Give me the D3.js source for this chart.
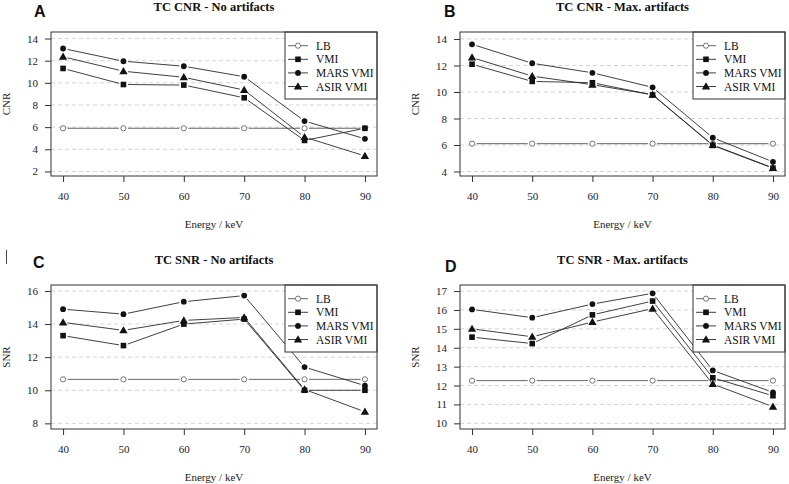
<!DOCTYPE html>
<html>
<head>
<meta charset="utf-8">
<script src="https://cdn.jsdelivr.net/npm/d3@7/dist/d3.min.js"></script>
<style>
  html, body { margin: 0; padding: 0; background: #fff; }
  svg { display: block; }
</style>
</head>
<body>
<svg id="chart" width="789" height="484"></svg>
<script>
// ---------------- DATA ----------------
const energies = [40, 50, 60, 70, 80, 90];
const seriesNames = ["LB", "VMI", "MARS VMI", "ASIR VMI"];
const panelLetters = ["A", "B", "C", "D"];
const panelTitles = ["TC CNR - No artifacts", "TC CNR - Max. artifacts", "TC SNR - No artifacts", "TC SNR - Max. artifacts"];
const yLabels = ["CNR", "CNR", "SNR", "SNR"];
const xLabel = "Energy / keV";

// Panel A: TC CNR - No artifacts
const cnrNoLB   = [5.9, 5.9, 5.9, 5.9, 5.9, 5.9];
const cnrNoVMI  = [11.3, 9.85, 9.8, 8.65, 4.8, 5.9];
const cnrNoMARS = [13.1, 11.95, 11.5, 10.55, 6.55, 4.95];
const cnrNoASIR = [12.35, 11.05, 10.5, 9.35, 5.1, 3.4];
// Panel B: TC CNR - Max. artifacts
const cnrMaxLB   = [6.1, 6.1, 6.1, 6.1, 6.1, 6.1];
const cnrMaxVMI  = [12.1, 10.8, 10.7, 9.78, 5.97, 4.25];
const cnrMaxMARS = [13.6, 12.17, 11.45, 10.35, 6.55, 4.73];
const cnrMaxASIR = [12.6, 11.2, 10.55, 9.8, 6.0, 4.27];
// Panel C: TC SNR - No artifacts
const snrNoLB   = [10.66, 10.66, 10.66, 10.66, 10.66, 10.66];
const snrNoVMI  = [13.3, 12.7, 14.0, 14.3, 10.0, 10.0];
const snrNoMARS = [14.9, 14.6, 15.35, 15.72, 11.4, 10.28];
const snrNoASIR = [14.1, 13.62, 14.22, 14.4, 10.05, 8.7];
// Panel D: TC SNR - Max. artifacts
const snrMaxLB   = [12.26, 12.26, 12.26, 12.26, 12.26, 12.26];
const snrMaxVMI  = [14.56, 14.22, 15.74, 16.47, 12.41, 11.46];
const snrMaxMARS = [16.03, 15.59, 16.31, 16.88, 12.8, 11.64];
const snrMaxASIR = [15.0, 14.58, 15.36, 16.07, 12.08, 10.88];

// Y tick labels per panel
const yTicksA = [2, 4, 6, 8, 10, 12, 14];
const yTicksB = [4, 6, 8, 10, 12, 14];
const yTicksC = [8, 10, 12, 14, 16];
const yTicksD = [10, 11, 12, 13, 14, 15, 16, 17];

const panelSeries = [
  [cnrNoLB, cnrNoVMI, cnrNoMARS, cnrNoASIR],
  [cnrMaxLB, cnrMaxVMI, cnrMaxMARS, cnrMaxASIR],
  [snrNoLB, snrNoVMI, snrNoMARS, snrNoASIR],
  [snrMaxLB, snrMaxVMI, snrMaxMARS, snrMaxASIR]
];
const panelTicks = [yTicksA, yTicksB, yTicksC, yTicksD];

// ---------------- LAYOUT ----------------
const boxes = [
  {x: 51,  y: 32,  w: 326, h: 144, yDom: [1.59, 14.59]},
  {x: 460, y: 32,  w: 325, h: 144, yDom: [3.66, 14.53]},
  {x: 51,  y: 285, w: 326, h: 144, yDom: [7.66, 16.36]},
  {x: 460, y: 285, w: 325, h: 144, yDom: [9.70, 17.32]}
];
const letterPos = [[34, 17], [444, 17], [33, 268], [445, 272]];

const serif = "'Liberation Serif', 'Times New Roman', serif";
const sans = "'Liberation Sans', Arial, sans-serif";
const ink = "#333";
const lineCol = "#2a2a2a";

const svg = d3.select("#chart");

function drawMarker(g, type, x, y) {
  if (type === 0) {
    g.append("circle").attr("cx", x).attr("cy", y).attr("r", 2.6)
      .attr("fill", "#fff").attr("stroke", "#666").attr("stroke-width", 0.9);
  } else if (type === 1) {
    g.append("rect").attr("x", x - 2.8).attr("y", y - 2.8).attr("width", 5.6).attr("height", 5.6)
      .attr("fill", "#111");
  } else if (type === 2) {
    g.append("circle").attr("cx", x).attr("cy", y).attr("r", 2.9).attr("fill", "#111");
  } else {
    g.append("path").attr("d", d3.symbol().type(d3.symbolTriangle).size(30)())
      .attr("transform", `translate(${x},${y + 0.6})`).attr("fill", "#111");
  }
}

boxes.forEach((b, pi) => {
  const g = svg.append("g");
  const x = d3.scaleLinear().domain([38, 92]).range([b.x, b.x + b.w]);
  const y = d3.scaleLinear().domain(b.yDom).range([b.y + b.h, b.y]);
  const ticks = panelTicks[pi];

  // gridlines
  g.selectAll(".grid").data(ticks).enter().append("line")
    .attr("x1", b.x).attr("x2", b.x + b.w)
    .attr("y1", d => y(d)).attr("y2", d => y(d))
    .attr("stroke", "#cfcfcf").attr("stroke-width", 0.9).attr("stroke-dasharray", "4,3");

  // series lines (type "b": gaps around points)
  const gap = 4.5;
  panelSeries[pi].forEach((vals, si) => {
    for (let i = 0; i < vals.length - 1; i++) {
      const x1 = x(energies[i]), y1 = y(vals[i]);
      const x2 = x(energies[i + 1]), y2 = y(vals[i + 1]);
      const len = Math.hypot(x2 - x1, y2 - y1);
      if (len <= 2 * gap) continue;
      const ux = (x2 - x1) / len, uy = (y2 - y1) / len;
      g.append("line")
        .attr("x1", x1 + ux * gap).attr("y1", y1 + uy * gap)
        .attr("x2", x2 - ux * gap).attr("y2", y2 - uy * gap)
        .attr("stroke", si === 0 ? "#555" : lineCol).attr("stroke-width", 0.9);
    }
  });
  // markers
  panelSeries[pi].forEach((vals, si) => {
    vals.forEach((v, i) => drawMarker(g, si, x(energies[i]), y(v)));
  });

  // legend (opaque, drawn on top)
  const lg = g.append("g");
  const lx = b.x + b.w - 92, ly = b.y;
  lg.append("rect").attr("x", lx).attr("y", ly).attr("width", 92).attr("height", 67)
    .attr("fill", "#fff").attr("stroke", ink).attr("stroke-width", 1);
  seriesNames.forEach((name, si) => {
    const yy = ly + 13.7 + si * 13.6;
    lg.append("line").attr("x1", lx + 3).attr("x2", lx + 23).attr("y1", yy).attr("y2", yy)
      .attr("stroke", si === 0 ? "#555" : lineCol).attr("stroke-width", 0.9);
    drawMarker(lg, si, lx + 13, yy);
    lg.append("text").attr("x", lx + 31).attr("y", yy).attr("dominant-baseline", "central")
      .attr("font-family", serif).attr("font-size", 11.5).attr("fill", "#111").text(name);
  });

  // box
  g.append("rect").attr("x", b.x).attr("y", b.y).attr("width", b.w).attr("height", b.h)
    .attr("fill", "none").attr("stroke", ink).attr("stroke-width", 1);

  // y axis
  const yAxis = d3.axisLeft(y).tickValues(ticks).tickSize(6).tickPadding(7).tickFormat(d3.format("d"));
  const ya = g.append("g").attr("transform", `translate(${b.x},0)`).call(yAxis);
  ya.select(".domain").remove();
  ya.selectAll("line").attr("stroke", ink);
  ya.selectAll("text").attr("font-family", serif).attr("font-size", 11).attr("fill", "#1a1a2e");

  // x axis
  const xAxis = d3.axisBottom(x).tickValues(energies).tickSize(6).tickPadding(10).tickFormat(d3.format("d"));
  const xa = g.append("g").attr("transform", `translate(0,${b.y + b.h})`).call(xAxis);
  xa.select(".domain").remove();
  xa.selectAll("line").attr("stroke", ink);
  xa.selectAll("text").attr("font-family", serif).attr("font-size", 11).attr("fill", "#1a1a2e");

  // title
  g.append("text").attr("x", b.x + b.w / 2).attr("y", b.y - 21.5).attr("text-anchor", "middle")
    .attr("font-family", serif).attr("font-weight", "bold").attr("font-size", 12.5).attr("fill", "#111")
    .text(panelTitles[pi]);
  // x label
  g.append("text").attr("x", b.x + b.w / 2).attr("y", b.y + b.h + 51.5).attr("text-anchor", "middle")
    .attr("font-family", serif).attr("font-size", 11).attr("fill", "#222").text(xLabel);
  // y label
  g.append("text").attr("transform", `translate(${b.x - 41},${b.y + b.h / 2}) rotate(-90)`)
    .attr("text-anchor", "middle").attr("font-family", serif).attr("font-size", 11).attr("fill", "#222")
    .text(yLabels[pi]);
  // panel letter
  g.append("text").attr("x", letterPos[pi][0]).attr("y", letterPos[pi][1])
    .attr("font-family", sans).attr("font-weight", "bold").attr("font-size", 16).attr("fill", "#111")
    .text(panelLetters[pi]);
});

// small stray mark at left edge of lower row
svg.append("line").attr("x1", 6.5).attr("x2", 6.5).attr("y1", 250).attr("y2", 264)
  .attr("stroke", "#444").attr("stroke-width", 1);
</script>
</body>
</html>
